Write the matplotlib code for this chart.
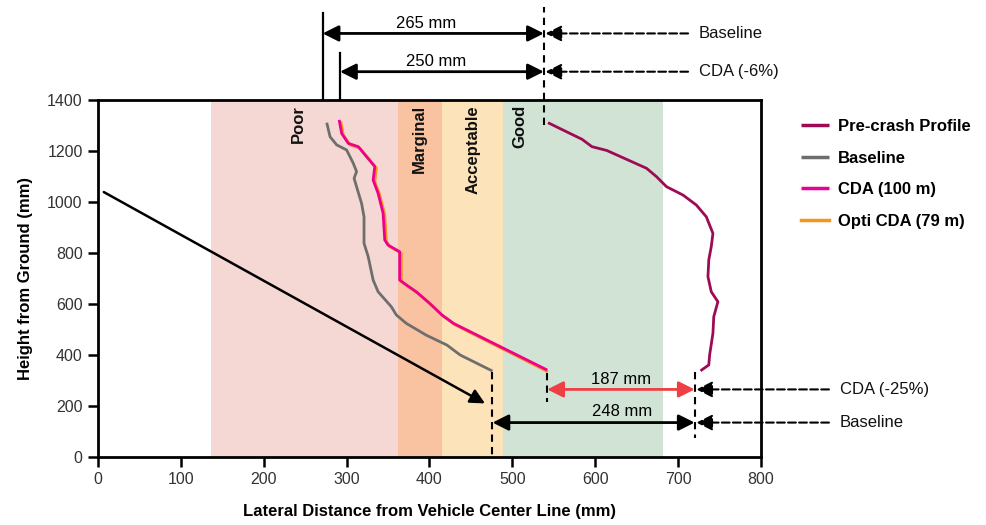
import matplotlib
matplotlib.use("Agg")
import matplotlib.pyplot as plt

plt.rcParams["font.family"] = ["Liberation Sans", "DejaVu Sans"]

# ── Data (mm) ────────────────────────────────────────────────────────────────
baseline_x = [276, 280, 288, 300, 308, 312, 309, 312, 318, 321, 321, 326, 332,
              338, 354, 360, 372, 396, 421, 437, 476]
baseline_y = [1311, 1256, 1224, 1204, 1152, 1119, 1093, 1060, 995, 942, 838, 786,
              694, 648, 589, 557, 524, 478, 439, 400, 337]

cda_x = [291, 294, 302, 314, 324, 334, 332, 338, 344, 346, 350, 364, 364, 372,
         384, 400, 415, 429, 542]
cda_y = [1322, 1269, 1230, 1217, 1178, 1139, 1086, 1034, 956, 851, 831, 805, 694,
         675, 648, 603, 557, 524, 341]

opti_x = [293, 296, 304, 316, 326, 336, 334, 340, 346, 348, 352, 366, 366, 374,
          386, 402, 417, 431, 543]
opti_y = [1317, 1263, 1224, 1211, 1172, 1133, 1080, 1028, 950, 845, 825, 799, 688,
          669, 642, 597, 551, 518, 334]

precrash_x = [543, 565, 584, 596, 614, 638, 662, 674, 686, 706, 722, 734, 742,
              740, 737, 736, 740, 748, 743, 742, 738, 737, 727]
precrash_y = [1311, 1276, 1246, 1217, 1202, 1167, 1132, 1099, 1060, 1027, 988,
              942, 877, 825, 773, 707, 648, 609, 550, 485, 400, 361, 338]

band_names = ["Poor", "Marginal", "Acceptable", "Good"]
band_edges = [136, 362, 415, 489, 682]
band_colours = ["#F5D8D4", "#F9C3A2", "#FDE3B9", "#D1E3D5"]
band_label_x = [242, 388, 452, 509]

impactor_start = (7, 1039)
impactor_end = (467, 210)

COL_PRE = "#9E0B55"
COL_BASE = "#6E6E6E"
COL_CDA = "#EC008C"
COL_OPTI = "#F7941D"

FS = 12

# ── Figure ───────────────────────────────────────────────────────────────────
fig = plt.figure(figsize=(9.87, 5.25), dpi=100)
ax = fig.add_axes([98 / 987, 68 / 525, 663 / 987, 357 / 525])

for i, name in enumerate(band_names):
    ax.axvspan(band_edges[i], band_edges[i + 1], color=band_colours[i], lw=0, zorder=0)
    ax.text(band_label_x[i], 1380, name, rotation=90, ha="center", va="top",
            fontsize=FS, fontweight="bold", color="#111111", zorder=5)

line_kw = dict(lw=2, solid_joinstyle="round", solid_capstyle="butt")
ax.plot(precrash_x, precrash_y, color=COL_PRE, label="Pre-crash Profile", zorder=3, **line_kw)
ax.plot(baseline_x, baseline_y, color=COL_BASE, label="Baseline", zorder=3, **line_kw)
ax.plot(opti_x, opti_y, color=COL_OPTI, zorder=3, **line_kw)
ax.plot(cda_x, cda_y, color=COL_CDA, label="CDA (100 m)", zorder=4, **line_kw)
# legend handle order: CDA then Opti
ax.plot([], [], color=COL_OPTI, lw=2, label="Opti CDA (79 m)")

# impactor trajectory
ax.annotate("", xy=impactor_end, xytext=impactor_start,
            arrowprops=dict(arrowstyle="-|>", color="black", lw=1.8,
                            mutation_scale=22, shrinkA=0, shrinkB=0), zorder=5)

ax.set_xlim(0, 800)
ax.set_ylim(0, 1400)
ax.set_xticks(range(0, 801, 100))
ax.set_yticks(range(0, 1401, 200))
ax.tick_params(direction="out", length=7, width=1.8, labelsize=11.5,
               labelcolor="#333333", pad=4)
for s in ax.spines.values():
    s.set_linewidth(2)
ax.set_xlabel("Lateral Distance from Vehicle Center Line (mm)", fontsize=FS,
              fontweight="bold", labelpad=12)
ax.set_ylabel("Height from Ground (mm)", fontsize=FS, fontweight="bold", labelpad=10)

dash = dict(color="black", lw=1.5, ls=(0, (3.5, 2.5)), clip_on=False, zorder=6)
solid = dict(color="black", lw=1.6, clip_on=False, zorder=6)


def dim_arrow(x0, x1, y, colour="black"):
    ax.annotate("", xy=(x1, y), xytext=(x0, y), annotation_clip=False,
                arrowprops=dict(arrowstyle="<|-|>", color=colour, lw=2,
                                mutation_scale=24, shrinkA=0, shrinkB=0))


def lead_arrow(x_from, x_to, y, text):
    ax.annotate("", xy=(x_to, y), xytext=(x_from, y), annotation_clip=False,
                arrowprops=dict(arrowstyle="-|>", color="black", lw=1.5, ls="--",
                                mutation_scale=24, shrinkA=0, shrinkB=0))
    ax.text(x_from + 13, y, text, ha="left", va="center", fontsize=FS,
            color="#111111", clip_on=False)


# ── Top annotations ──────────────────────────────────────────────────────────
ax.plot([271, 271], [1400, 1741], **solid)
ax.plot([292, 292], [1400, 1586], **solid)
ax.plot([538, 538], [1302, 1765], **dash)
dim_arrow(271, 538, 1661)
dim_arrow(292, 538, 1511)
ax.text(396, 1672, "265 mm", ha="center", va="bottom", fontsize=FS, clip_on=False)
ax.text(408, 1522, "250 mm", ha="center", va="bottom", fontsize=FS, clip_on=False)
lead_arrow(712, 540, 1661, "Baseline")
lead_arrow(712, 540, 1511, "CDA (-6%)")

# ── Bottom annotations ───────────────────────────────────────────────────────
ax.plot([476, 476], [334, 5], **dash)
ax.plot([542, 542], [329, 217], **dash)
ax.plot([720, 720], [335, 73], **dash)
dim_arrow(542, 720, 265, colour="#EE4044")
dim_arrow(476, 720, 135)
ax.text(631, 276, "187 mm", ha="center", va="bottom", fontsize=FS)
ax.text(632, 148, "248 mm", ha="center", va="bottom", fontsize=FS)
lead_arrow(882, 722, 265, "CDA (-25%)")
lead_arrow(882, 722, 135, "Baseline")

leg = fig.legend(*ax.get_legend_handles_labels(), loc="upper left",
                 bbox_to_anchor=(786 / 987, 1 - 104 / 525), frameon=False,
                 handlelength=1.7, handletextpad=0.5, labelspacing=1.0,
                 prop=dict(size=12, weight="bold"))
for line in leg.get_lines():
    line.set_linewidth(2.5)

fig.savefig("out.png", dpi=100)
